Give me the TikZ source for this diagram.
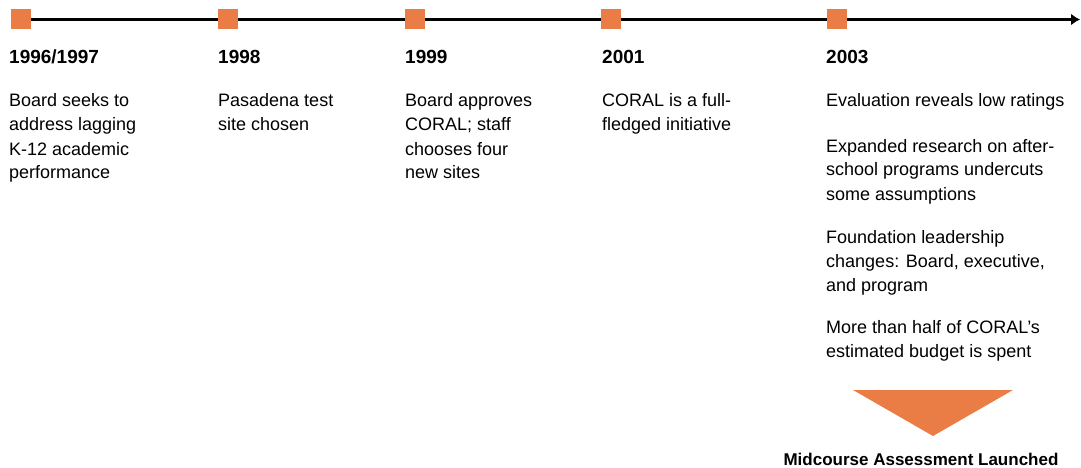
\documentclass[tikz,border=0pt]{standalone}
\usepackage{fontspec}
\setmainfont{Liberation Sans}
\usetikzlibrary{arrows.meta}
\definecolor{tlorange}{RGB}{233,125,69}
\newcommand{\tllines}[1]{\parbox[t]{260pt}{\raggedright #1}}
\tikzset{
  mark box/.style={fill=tlorange, minimum size=20pt, inner sep=0pt, outer sep=0pt},
  year/.style={anchor=base west, inner sep=0pt, font=\fontsize{19}{24}\selectfont\bfseries},
  body/.style={anchor=base west, inner sep=0pt, font=\fontsize{18}{24}\selectfont},
}
\begin{document}
\begin{tikzpicture}[x=1pt,y=-1pt]
\useasboundingbox (0,0) rectangle (1081,468);
\coordinate (start) at (21,19.5);
\coordinate (end) at (1080,19.5);
\draw[line width=2.5pt, -{Latex[length=9pt,width=12pt]}] (start) -- (end);
\node[mark box] (s1) at (21,19) {};
\node[mark box] (s2) at (228,19) {};
\node[mark box] (s3) at (415,19) {};
\node[mark box] (s4) at (611,19) {};
\node[mark box] (s5) at (837,19) {};

\node[year] (y1) at (9,64) {1996/1997};
\node[year] (y2) at (218,64) {1998};
\node[year] (y3) at (405,64) {1999};
\node[year] (y4) at (602,64) {2001};
\node[year] (y5) at (826,64) {2003};

\node[body] (t1) at (9,107) {\tllines{Board seeks to\\address lagging\\K-12 academic\\performance}};
\node[body] (t2) at (218,107) {\tllines{Pasadena test\\site chosen}};
\node[body] (t3) at (405,107) {\tllines{Board approves\\CORAL; staff\\chooses four\\new sites}};
\node[body] (t4) at (602,107) {\tllines{CORAL is a full-\\fledged initiative}};
\node[body] (t5a) at (826,107) {\tllines{Evaluation reveals low ratings}};
\node[body] (t5b) at (826,152) {\tllines{Expanded research on after-\\school programs undercuts\\some assumptions}};
\node[body] (t5c) at (826,243) {\tllines{Foundation leadership\\changes: Board, executive,\\and program}};
\node[body] (t5d) at (826,333) {\tllines{More than half of CORAL’s\\estimated budget is spent}};

\fill[tlorange] (853,390) -- (1013,390) -- (933,436) -- cycle;
\node[anchor=base, inner sep=0pt, font=\fontsize{17}{20}\selectfont\bfseries] (mid) at (921,465) {Midcourse Assessment Launched};
\end{tikzpicture}
\end{document}
